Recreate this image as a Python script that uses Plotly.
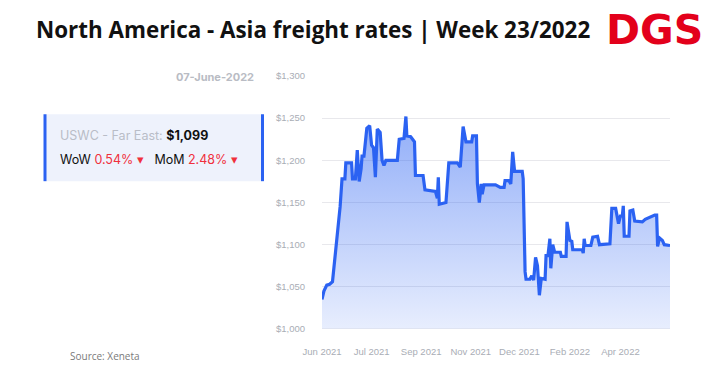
import plotly.graph_objects as go

dates = [
    "2021-06-07", "2021-06-09", "2021-06-12", "2021-06-15", "2021-06-18", "2021-06-20", "2021-06-21",
    "2021-06-23", "2021-06-26", "2021-06-28", "2021-07-01", "2021-07-02", "2021-07-08", "2021-07-09",
    "2021-07-12", "2021-07-14", "2021-07-16", "2021-07-18", "2021-07-19", "2021-07-21", "2021-07-24",
    "2021-07-27", "2021-07-29", "2021-07-31", "2021-08-02", "2021-08-04", "2021-08-07", "2021-08-09",
    "2021-08-11", "2021-08-13", "2021-08-25", "2021-08-27", "2021-09-01", "2021-09-03", "2021-09-04",
    "2021-09-08", "2021-09-12", "2021-09-13", "2021-09-21", "2021-09-23", "2021-10-04", "2021-10-06",
    "2021-10-07", "2021-10-08", "2021-10-15", "2021-10-18", "2021-10-27", "2021-10-30", "2021-11-02",
    "2021-11-05", "2021-11-11", "2021-11-12", "2021-11-16", "2021-11-17", "2021-11-19", "2021-11-21",
    "2021-11-22", "2021-11-24", "2021-12-06", "2021-12-11", "2021-12-15", "2021-12-16", "2021-12-20",
    "2021-12-22", "2021-12-24", "2021-12-26", "2022-01-03", "2022-01-04", "2022-01-05", "2022-01-06",
    "2022-01-07", "2022-01-11", "2022-01-13", "2022-01-15", "2022-01-17", "2022-01-19", "2022-01-21",
    "2022-01-23", "2022-01-27", "2022-01-28", "2022-01-30", "2022-02-01", "2022-02-02", "2022-02-04",
    "2022-02-06", "2022-02-12", "2022-02-13", "2022-02-18", "2022-02-19", "2022-02-22", "2022-02-24",
    "2022-02-25", "2022-03-07", "2022-03-08", "2022-03-09", "2022-03-10", "2022-03-16", "2022-03-18",
    "2022-03-23", "2022-03-25", "2022-04-05", "2022-04-07", "2022-04-11", "2022-04-14", "2022-04-16",
    "2022-04-18", "2022-04-19", "2022-04-20", "2022-04-25", "2022-04-26", "2022-04-29", "2022-05-01",
    "2022-05-09", "2022-05-12", "2022-05-22", "2022-05-24", "2022-05-25", "2022-05-27", "2022-05-30",
    "2022-06-01", "2022-06-07",
]
rates = [
    1035, 1045, 1052, 1053, 1056, 1078, 1090,
    1115, 1145, 1178, 1178, 1197, 1197, 1178,
    1178, 1212, 1175, 1190, 1205, 1205, 1238,
    1241, 1218, 1215, 1180, 1237, 1233, 1200,
    1194, 1200, 1200, 1225, 1226, 1252, 1229,
    1228, 1222, 1182, 1182, 1165, 1163, 1155,
    1180, 1148, 1150, 1197, 1197, 1192, 1240,
    1222, 1222, 1229, 1229, 1172, 1150, 1172,
    1160, 1171, 1171, 1168, 1168, 1176, 1176,
    1172, 1210, 1187, 1187, 1178, 1105, 1068,
    1059, 1059, 1063, 1058, 1085, 1075, 1040,
    1060, 1059, 1087, 1087, 1107, 1072, 1100,
    1091, 1091, 1086, 1086, 1127, 1105, 1104,
    1094, 1094, 1090, 1107, 1099, 1099, 1109,
    1110, 1100, 1101, 1143, 1143, 1125, 1134,
    1134, 1146, 1110, 1110, 1140, 1141, 1128,
    1127, 1130, 1135, 1135, 1098, 1108, 1105,
    1100, 1099,
]

y_ticks = [1000, 1050, 1100, 1150, 1200, 1250, 1300]
y_tick_labels = ["$1,000", "$1,050", "$1,100", "$1,150", "$1,200", "$1,250", "$1,300"]
x_ticks = ["2021-06-07", "2021-07-29", "2021-09-19", "2021-11-10", "2021-12-31", "2022-02-22", "2022-04-16"]
x_tick_labels = ["Jun 2021", "Jul 2021", "Sep 2021", "Nov 2021", "Dec 2021", "Feb 2022", "Apr 2022"]

title = "North America - Asia freight rates | Week 23/2022"
route = "USWC - Far East:"
latest = "$1,099"
wow = "0.54%"
mom = "2.48%"
as_of = "07-June-2022"
source = "Source: Xeneta"

BLUE = "#2b62f2"
RED = "#f0303c"

# plot area in page pixels: x 322..670, y 75.7..329 (page body has an 8px margin)
PW, PH = 348.0, 253.3
def px(x):
    return (x - 322) / PW
def py(y):
    return (329 - y) / PH

fig = go.Figure()
fig.add_trace(go.Scatter(
    x=dates, y=rates, mode="lines",
    line=dict(color=BLUE, width=3.2, shape="linear"),
    fill="tozeroy",
    fillgradient=dict(type="vertical", start=1000, stop=1252,
                      colorscale=[[0, "rgba(43,98,242,0.11)"], [1, "rgba(43,98,242,0.52)"]]),
    hoverinfo="skip", showlegend=False,
))

fig.update_layout(
    width=713, height=370,
    margin=dict(l=314, r=51, t=67.7, b=49),
    paper_bgcolor="white", plot_bgcolor="white",
    font=dict(family="Inter, sans-serif"),
    xaxis=dict(
        range=["2021-06-07", "2022-06-07"], tickvals=x_ticks, ticktext=x_tick_labels,
        showgrid=False, zeroline=False, showline=False, ticks="",
        tickfont=dict(family="Liberation Sans", size=9.5, color="#a9adb5"), ticklabelstandoff=15,
    ),
    yaxis=dict(
        range=[1000, 1300], tickvals=y_ticks, ticktext=y_tick_labels,
        showgrid=True, gridcolor="#e8e8ec", gridwidth=1, zeroline=False, showline=False, ticks="",
        tickfont=dict(family="Liberation Sans", size=9.5, color="#a9adb5"), ticklabelstandoff=16,
    ),
    shapes=[
        dict(type="line", xref="paper", yref="y", x0=0, x1=1, y0=1000, y1=1000,
             line=dict(color="#d6dbe6", width=1), layer="above"),
        dict(type="rect", xref="paper", yref="paper",
             x0=px(44), x1=px(263), y0=py(181), y1=py(114),
             fillcolor="#eef2fc", line=dict(width=0), layer="below"),
        dict(type="line", xref="paper", yref="paper",
             x0=px(45), x1=px(45), y0=py(181), y1=py(114),
             line=dict(color=BLUE, width=3)),
        dict(type="line", xref="paper", yref="paper",
             x0=px(262.5), x1=px(262.5), y0=py(181), y1=py(114),
             line=dict(color=BLUE, width=3)),
    ],
    annotations=[
        dict(text=f"<b>{title}</b>", xref="paper", yref="paper",
             x=px(34), y=py(29), xanchor="left", yanchor="middle",
             showarrow=False, font=dict(family="Open Sans", size=22.4, color="#111111")),
        dict(text="<b>DGS</b>", xref="paper", yref="paper",
             x=px(705), y=py(30), xanchor="right", yanchor="middle",
             showarrow=False, font=dict(family="DejaVu Sans", size=41, color="#e3001b")),
        dict(text=f"<b>{as_of}</b>", xref="paper", yref="paper",
             x=px(256), y=py(77), xanchor="right", yanchor="middle",
             showarrow=False, font=dict(family="Inter", size=11, color="#b9bcc4")),
        dict(text=f"<span style='color:#b9bdc7'>{route}</span> <b>{latest}</b>",
             xref="paper", yref="paper",
             x=px(58), y=py(135), xanchor="left", yanchor="middle",
             showarrow=False, font=dict(family="Inter", size=12.5, color="#111111")),
        dict(text=f"WoW <span style='color:{RED}'>{wow} ▾</span>   MoM <span style='color:{RED}'>{mom} ▾</span>",
             xref="paper", yref="paper",
             x=px(58), y=py(159), xanchor="left", yanchor="middle",
             showarrow=False, font=dict(family="Inter", size=12.5, color="#111111")),
        dict(text=source, xref="paper", yref="paper",
             x=px(68), y=py(356), xanchor="left", yanchor="middle",
             showarrow=False, font=dict(family="Open Sans", size=10, color="#7a7a7a")),
    ],
)

fig.write_html("out.html")
